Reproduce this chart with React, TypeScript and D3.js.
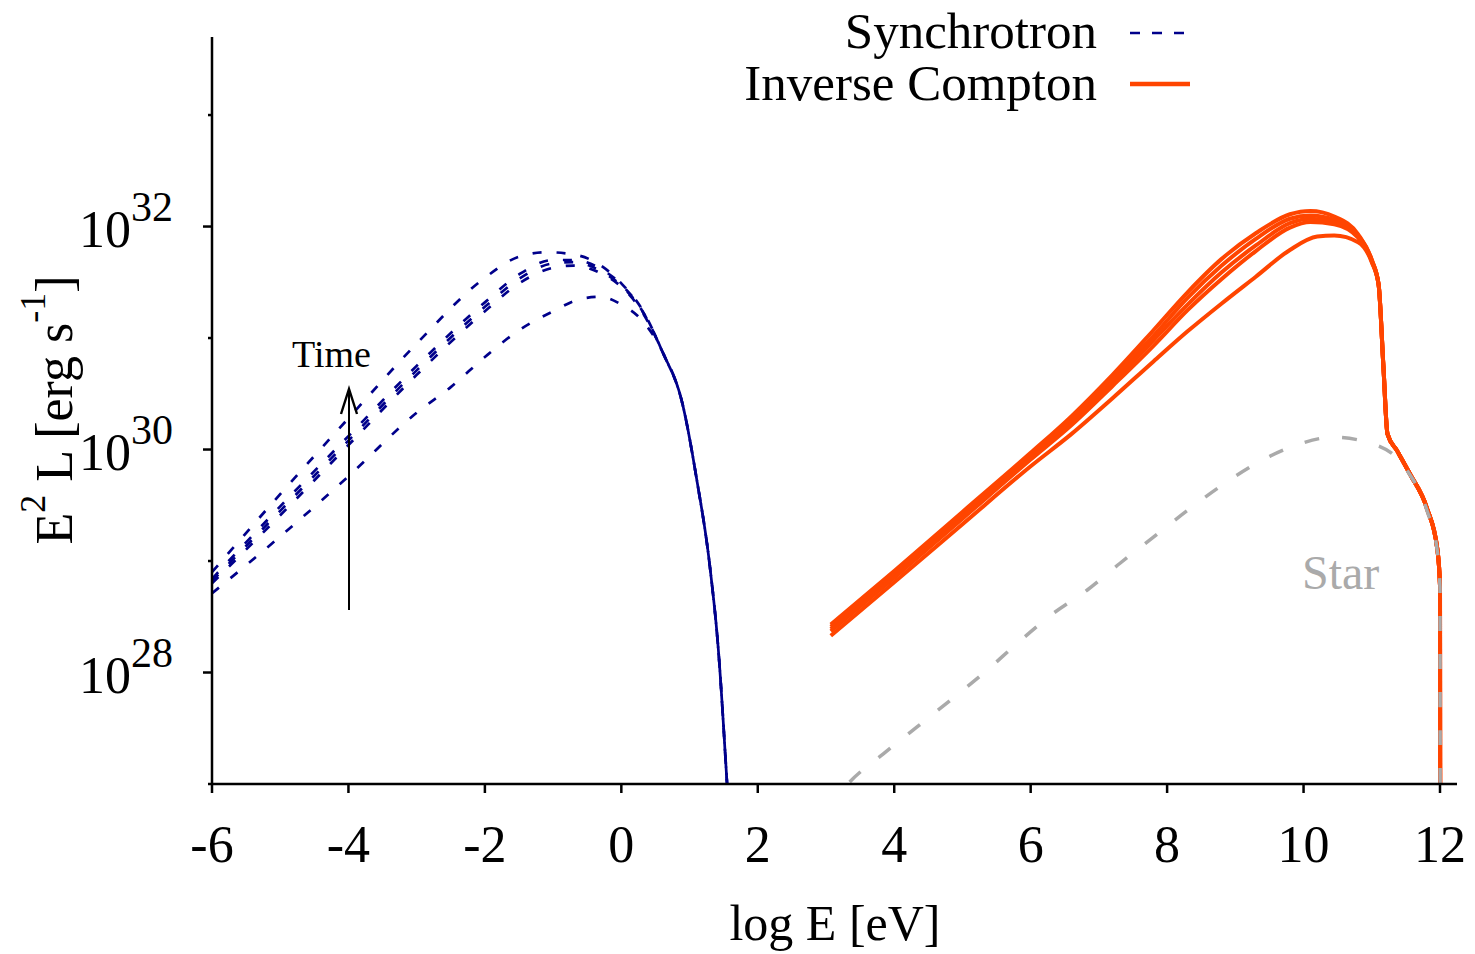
import React from "react";
import * as d3 from "d3";

// Each point: [log10 E (eV), log10 E^2 L (erg s^-1)]
type Pt = [number, number];

// Synchrotron spectra at successive times (earliest last), shared high-energy cutoff
const syncTail: Pt[] = [[0.6, 30.88], [0.9, 30.4], [1.1, 29.75], [1.3, 28.94], [1.42, 28.22], [1.55, 27.0], [1.62, 26.3]];
const sync1: Pt[] = [[-6, 28.9], [-5, 29.6], [-4, 30.28], [-3, 30.95], [-2, 31.54], [-1.5, 31.73], [-1.1, 31.77], [-0.7, 31.75], [-0.3, 31.65], [0, 31.49], [0.3, 31.26]];
const sync2: Pt[] = [[-6, 28.84], [-5, 29.49], [-4, 30.12], [-3, 30.75], [-2, 31.32], [-1.5, 31.57], [-1.0, 31.7], [-0.7, 31.7], [-0.3, 31.62], [0, 31.48], [0.3, 31.25]];
const sync3: Pt[] = [[-6, 28.82], [-5, 29.45], [-4, 30.08], [-3, 30.71], [-2, 31.28], [-1.5, 31.53], [-1.0, 31.67], [-0.7, 31.68], [-0.3, 31.6], [0, 31.47], [0.3, 31.25]];
const sync4: Pt[] = [[-6, 28.8], [-5, 29.41], [-4, 30.04], [-3, 30.67], [-2, 31.24], [-1.5, 31.49], [-1.0, 31.63], [-0.7, 31.65], [-0.3, 31.58], [0, 31.46], [0.3, 31.24]];
const sync5: Pt[] = [[-6, 28.71], [-5, 29.22], [-4, 29.76], [-3, 30.33], [-2.5, 30.56], [-2, 30.83], [-1.5, 31.07], [-1.0, 31.24], [-0.6, 31.35], [-0.3, 31.37], [0, 31.3], [0.3, 31.16]];

// Inverse Compton spectra at the same times, shared cutoff onto the stellar field
const icTail: Pt[] = [[11.1, 31.48], [11.17, 30.75], [11.23, 30.14], [11.37, 29.99], [11.56, 29.78], [11.81, 29.47], [11.96, 29.11], [12.0, 28.78], [12.003, 26.0]];
const ic1: Pt[] = [[3.07, 28.43], [4.0, 28.91], [5.0, 29.44], [6.0, 29.97], [6.6, 30.3], [7.2, 30.67], [7.8, 31.07], [8.3, 31.41], [8.8, 31.71], [9.3, 31.94], [9.8, 32.11], [10.1, 32.14], [10.45, 32.09], [10.8, 31.93], [11.0, 31.7]];
const ic2: Pt[] = [[3.07, 28.41], [4.0, 28.89], [5.0, 29.42], [6.0, 29.95], [6.6, 30.27], [7.2, 30.64], [7.8, 31.02], [8.3, 31.36], [8.8, 31.65], [9.3, 31.89], [9.8, 32.07], [10.1, 32.1], [10.45, 32.06], [10.8, 31.92], [11.0, 31.7]];
const ic3: Pt[] = [[3.07, 28.39], [4.0, 28.87], [5.0, 29.4], [6.0, 29.93], [6.6, 30.25], [7.2, 30.6], [7.8, 30.98], [8.3, 31.3], [8.8, 31.59], [9.3, 31.83], [9.8, 32.03], [10.1, 32.07], [10.45, 32.04], [10.8, 31.91], [11.0, 31.69]];
const ic4: Pt[] = [[3.07, 28.37], [4.0, 28.85], [5.0, 29.38], [6.0, 29.91], [6.6, 30.22], [7.2, 30.57], [7.8, 30.93], [8.3, 31.25], [8.8, 31.53], [9.3, 31.78], [9.8, 31.99], [10.1, 32.04], [10.45, 32.02], [10.8, 31.9], [11.0, 31.69]];
const ic5: Pt[] = [[3.07, 28.33], [4.0, 28.81], [5.0, 29.33], [6.0, 29.85], [6.6, 30.14], [7.2, 30.46], [7.8, 30.79], [8.3, 31.06], [8.8, 31.31], [9.3, 31.55], [9.8, 31.79], [10.2, 31.91], [10.45, 31.92], [10.8, 31.86], [11.0, 31.68]];

// Stellar photon field
const star: Pt[] = [[3.0, 26.75], [3.32, 27.0], [3.84, 27.27], [4.33, 27.51], [4.82, 27.75], [5.36, 28.02], [5.8, 28.26], [6.33, 28.53], [6.83, 28.74], [7.31, 28.98], [7.79, 29.21], [8.29, 29.45], [8.78, 29.67], [9.32, 29.88], [9.85, 30.03], [10.43, 30.11], [11.02, 30.05], [11.52, 29.81], [11.81, 29.45], [11.96, 29.09], [12.0, 28.76], [12.003, 26.0]];

const xTicks = [-6, -4, -2, 0, 2, 4, 6, 8, 10, 12];
const yMajorExp = [28, 30, 32];
const yMinorExp = [27, 29, 31, 33];

const syncSeries = [sync1, sync2, sync3, sync4, sync5].map((s) => s.concat(syncTail));
const icSeries = [ic1, ic2, ic3, ic4, ic5].map((s) => s.concat(icTail));

const W = 1475;
const H = 954;
const left = 212;
const right = 1457;
const top = 37;
const bottom = 784;

const x = d3.scaleLinear().domain([-6, 12]).range([212, 1440]);
const y = d3.scaleLog().domain([1e27, Math.pow(10, 33.7)]).range([bottom, top]);

const line = d3
  .line<Pt>()
  .x((d) => x(d[0]))
  .y((d) => y(Math.pow(10, d[1])))
  .curve(d3.curveMonotoneX);

const NAVY = "#00008b";
const ORANGE = "#ff4500";
const GREY = "#aaaaaa";
const FONT = "'Liberation Serif', 'Times New Roman', serif";

export default function App() {
  return (
    <svg
      width={W}
      height={H}
      viewBox={`0 0 ${W} ${H}`}
      style={{ position: "absolute", left: 0, top: 0, background: "#fff" }}
      fontFamily={FONT}
    >
      <defs>
        <clipPath id="plotArea">
          <rect x={left} y={top} width={right - left} height={bottom - top} />
        </clipPath>
      </defs>

      <g clipPath="url(#plotArea)" fill="none">
        {syncSeries.map((s, i) => (
          <path key={"s" + i} d={line(s) ?? ""} stroke={NAVY} strokeWidth={2.7} strokeDasharray="9,15" />
        ))}
        {icSeries.map((s, i) => (
          <path key={"c" + i} d={line(s) ?? ""} stroke={ORANGE} strokeWidth={4} strokeLinejoin="round" />
        ))}
        <path d={line(star) ?? ""} stroke={GREY} strokeWidth={3.5} strokeDasharray="15,23" />
      </g>

      {/* axes */}
      <g stroke="#000" strokeWidth={2.5}>
        <line x1={left} y1={top} x2={left} y2={bottom + 1} />
        <line x1={left - 1} y1={bottom} x2={right} y2={bottom} />
        {xTicks.map((t) => (
          <line key={"xt" + t} x1={x(t)} x2={x(t)} y1={bottom} y2={bottom + 9} />
        ))}
        {yMajorExp.map((e) => (
          <line key={"ym" + e} x1={left - 9} x2={left} y1={y(Math.pow(10, e))} y2={y(Math.pow(10, e))} />
        ))}
        {yMinorExp.map((e) => (
          <line key={"yn" + e} x1={left - 4} x2={left} y1={y(Math.pow(10, e))} y2={y(Math.pow(10, e))} />
        ))}
      </g>

      {xTicks.map((t) => (
        <text key={"xl" + t} x={x(t)} y={862} fontSize={52} textAnchor="middle" fill="#000">
          {t}
        </text>
      ))}
      {yMajorExp.map((e) => (
        <text key={"yl" + e} x={79} y={y(Math.pow(10, e)) + 20} fontSize={52} fill="#000">
          10
          <tspan dy={-26} fontSize={42}>
            {e}
          </tspan>
        </text>
      ))}

      <text x={835} y={940} fontSize={50} textAnchor="middle" fill="#000">
        log E [eV]
      </text>
      <text transform="translate(72,410) rotate(-90)" fontSize={52} textAnchor="middle" fill="#000">
        E
        <tspan dy={-27} fontSize={36}>2</tspan>
        <tspan dy={27}> L [erg s</tspan>
        <tspan dy={-27} fontSize={36}>-1</tspan>
        <tspan dy={27}>]</tspan>
      </text>

      {/* time arrow */}
      <text x={292} y={367} fontSize={38} fill="#000">
        Time
      </text>
      <g stroke="#000" fill="none" strokeWidth={2}>
        <line x1={349} y1={610} x2={349} y2={389} />
        <polyline points="341,414 349,389 357,414" strokeWidth={2.4} />
      </g>

      <text x={1302} y={589} fontSize={48} fill={GREY}>
        Star
      </text>

      {/* legend */}
      <text x={1097} y={48} fontSize={51} textAnchor="end" fill="#000">
        Synchrotron
      </text>
      <line x1={1130} x2={1190} y1={33} y2={33} stroke={NAVY} strokeWidth={2.4} strokeDasharray="10,12" />
      <text x={1097} y={100} fontSize={51} textAnchor="end" fill="#000">
        Inverse Compton
      </text>
      <line x1={1130} x2={1190} y1={84} y2={84} stroke={ORANGE} strokeWidth={4.5} />
    </svg>
  );
}
